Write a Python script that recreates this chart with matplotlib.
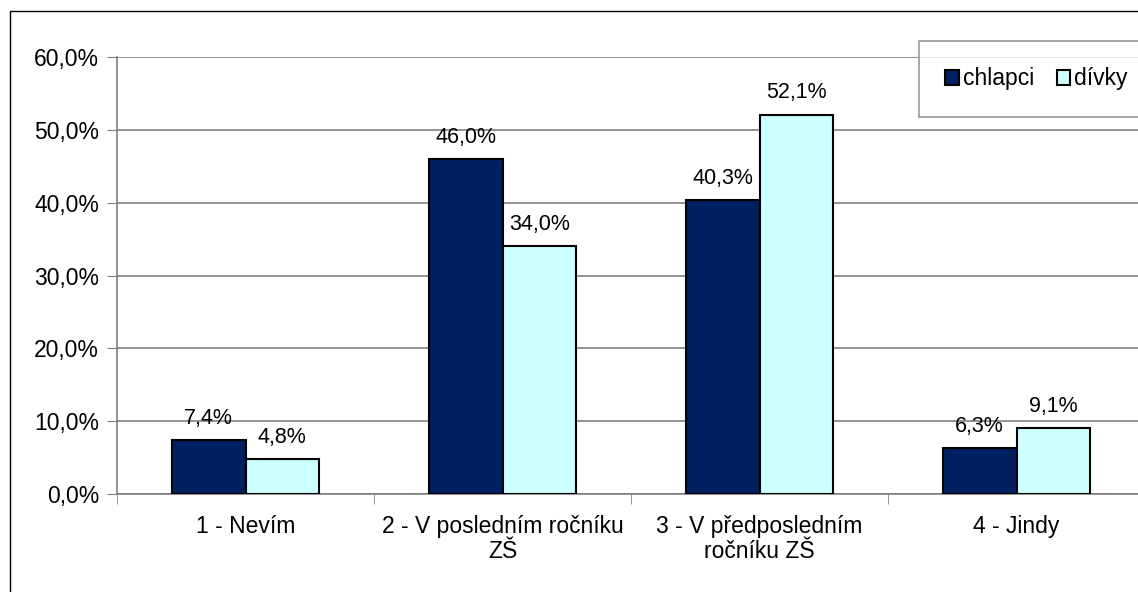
import numpy as np
import matplotlib.pyplot as plt
from matplotlib.patches import Rectangle

plt.rcParams['font.family'] = ['Liberation Sans', 'DejaVu Sans']

# data
categories = ['1 - Nevím', '2 - V posledním ročníku\nZŠ',
              '3 - V předposledním\nročníku ZŠ', '4 - Jindy']
chlapci = [7.4, 46.0, 40.3, 6.3]
divky = [4.8, 34.0, 52.1, 9.1]
series_names = ['chlapci', 'dívky']
colors = ['#002060', '#CCFFFF']

W, H = 1138, 592
fig = plt.figure(figsize=(W / 100, H / 100), dpi=100)

# plot area (right edge runs past the picture)
left, right, top, bottom = 117, 1145, 57, 494
ax = fig.add_axes([left / W, 1 - bottom / H, (right - left) / W, (bottom - top) / H])

x = np.arange(len(categories))
bw = 0.286
b1 = ax.bar(x - bw / 2, chlapci, bw, color=colors[0], edgecolor='black',
            linewidth=1.5, label=series_names[0], zorder=3)
b2 = ax.bar(x + bw / 2, divky, bw, color=colors[1], edgecolor='black',
            linewidth=1.5, label=series_names[1], zorder=3)

for bars, vals in ((b1, chlapci), (b2, divky)):
    for rect, v in zip(bars, vals):
        ax.annotate(f'{v:.1f}%'.replace('.', ','),
                    xy=(rect.get_x() + rect.get_width() / 2, v),
                    xytext=(0, 8), textcoords='offset points',
                    ha='center', va='bottom', fontsize=15.5)

ax.set_xlim(-0.5, len(categories) - 0.5)
ax.set_ylim(0, 60)
yt = np.arange(0, 61, 10)
ax.set_yticks(yt)
ax.set_yticklabels([f'{v:.1f}%'.replace('.', ',') for v in yt], fontsize=16.5)
ax.yaxis.grid(True, color='#808080', linewidth=1.2, zorder=0)
ax.tick_params(axis='y', length=7, color='#808080', pad=6)

# category labels centred, ticks at boundaries
ax.set_xticks(x)
ax.set_xticklabels(categories, fontsize=16.5, linespacing=1.1)
ax.tick_params(axis='x', length=0, pad=15)
ax.set_xticks(np.arange(-0.5, len(categories) + 0.5, 1), minor=True)
ax.tick_params(axis='x', which='minor', length=7, color='#808080')

for s in ('top', 'right'):
    ax.spines[s].set_visible(False)
for s in ('left', 'bottom'):
    ax.spines[s].set_color('#808080')
    ax.spines[s].set_linewidth(1.2)

# outer chart frame
fig.patches.append(Rectangle((10 / W, -0.1), 1.2, (H - 11) / H + 0.1,
                             transform=fig.transFigure, fill=False,
                             edgecolor='black', linewidth=1))

leg = ax.legend(loc='upper left', bbox_to_anchor=(919 / W, 1 - 41 / H),
                bbox_transform=fig.transFigure, ncol=2, fontsize=16.5,
                frameon=True, fancybox=False, borderpad=1.15, borderaxespad=0,
                handlelength=0.6, handleheight=0.6, handletextpad=0.15,
                columnspacing=1.0)
leg.get_frame().set_edgecolor('#808080')
leg.get_frame().set_linewidth(1.2)

fig.savefig('out.png', dpi=100, facecolor='white')
